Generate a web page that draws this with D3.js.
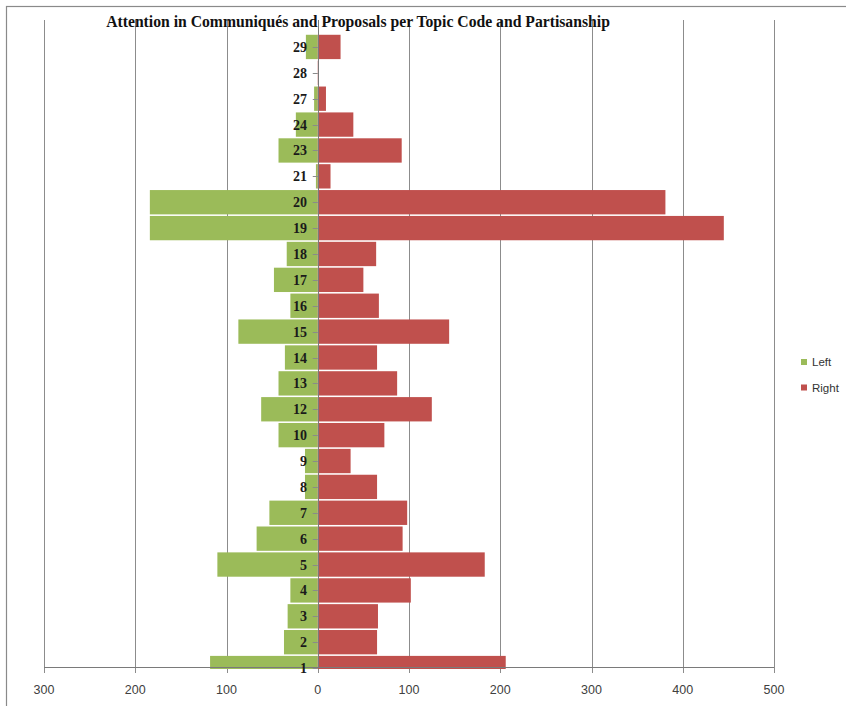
<!DOCTYPE html>
<html><head><meta charset="utf-8">
<script src="https://cdn.jsdelivr.net/npm/d3@7"></script>
<style>html,body{margin:0;padding:0;background:#fff;}svg{display:block;}</style>
</head><body>
<svg id="chart" width="846" height="706"></svg>
<script>
const title = "Attention in Communiqués and Proposals per Topic Code and Partisanship";
const categories = ["1","2","3","4","5","6","7","8","9","10","12","13","14","15","16","17","18","19","20","21","23","24","27","28","29"];
const leftValues  = [118,37,33,30,110,67,53,14,14,43,62,43,36,87,30,48,34,184,184,2,43,24,4,0,13];
const rightValues = [206,65,66,102,183,93,98,65,36,73,125,87,65,144,67,50,64,445,381,14,92,39,9,1,25];
const xTicks = [-300,-200,-100,0,100,200,300,400,500];
const seriesNames = ["Left","Right"];
const colors = ["#9BBB59","#C0504D"];

const svg = d3.select("#chart");
// outer frame
svg.append("rect").attr("x",6.5).attr("y",6.5).attr("width",900).attr("height",900)
  .attr("fill","none").attr("stroke","#8a8a8a").attr("stroke-width",1.2);

const x = d3.scaleLinear().domain([-300,500]).range([44,774]);
const y = d3.scaleBand().domain(categories.slice().reverse()).range([34,681]).paddingInner(0.06).paddingOuter(0.03);
const plotTop = 20, plotBottom = 667;

// gridlines (with ticks below axis)
svg.append("g").selectAll("line").data(xTicks).join("line")
  .attr("x1",d=>Math.round(x(d))+0.5).attr("x2",d=>Math.round(x(d))+0.5)
  .attr("y1",plotTop).attr("y2",plotBottom+6)
  .attr("stroke","#8c8c8c").attr("stroke-width",1);

// bars
svg.append("clipPath").attr("id","clip").append("rect")
  .attr("x",0).attr("y",0).attr("width",846).attr("height",669);
const bars = svg.append("g").attr("clip-path","url(#clip)");
bars.selectAll("rect.left").data(categories).join("rect").attr("class","left")
  .attr("x",(d,i)=>x(-leftValues[i])).attr("width",(d,i)=>x(0)-x(-leftValues[i]))
  .attr("y",d=>y(d)).attr("height",y.bandwidth()).attr("fill",colors[0]);
bars.selectAll("rect.right").data(categories).join("rect").attr("class","right")
  .attr("x",x(0)).attr("width",(d,i)=>x(rightValues[i])-x(0))
  .attr("y",d=>y(d)).attr("height",y.bandwidth()).attr("fill",colors[1]);

// axes lines
svg.append("line").attr("x1",x(-300)).attr("x2",x(500)).attr("y1",plotBottom+0.5).attr("y2",plotBottom+0.5)
  .attr("stroke","#7a7a7a");
svg.append("line").attr("x1",Math.round(x(0))+0.5).attr("x2",Math.round(x(0))+0.5).attr("y1",plotTop).attr("y2",plotBottom)
  .attr("stroke","#7a7a7a");

// x tick labels
svg.append("g").selectAll("text").data(xTicks).join("text")
  .attr("x",d=>x(d)).attr("y",694).attr("text-anchor","middle")
  .attr("font-family","'Liberation Sans', Arial, sans-serif").attr("font-size",12.5).attr("fill","#404040")
  .text(d=>Math.abs(d));

// category ticks & labels
const cy = d => y(d)+y.bandwidth()/2;
svg.append("g").selectAll("line").data(categories).join("line")
  .attr("x1",x(0)-5).attr("x2",x(0)).attr("y1",d=>Math.round(cy(d))+0.5).attr("y2",d=>Math.round(cy(d))+0.5)
  .attr("stroke","#8a8a8a");
svg.append("g").selectAll("text").data(categories).join("text")
  .attr("x",307).attr("y",d=>cy(d)+5).attr("text-anchor","end")
  .attr("font-family","'Liberation Serif','Times New Roman',serif").attr("font-weight","bold")
  .attr("font-size",14).attr("fill","#1a1a1a").text(d=>d);

// title
svg.append("text").attr("x",358).attr("y",27).attr("text-anchor","middle")
  .attr("font-family","'Liberation Serif','Times New Roman',serif").attr("font-weight","bold")
  .attr("font-size",15.7).attr("fill","#111").text(title);

// legend
const lg = svg.append("g").selectAll("g").data(seriesNames).join("g")
  .attr("transform",(d,i)=>`translate(801,${359+i*25.5})`);
lg.append("rect").attr("width",6).attr("height",6).attr("fill",(d,i)=>colors[i]);
lg.append("text").attr("x",11).attr("y",7).attr("font-family","'Liberation Sans', Arial, sans-serif")
  .attr("font-size",11.5).attr("fill","#333").text(d=>d);
</script>
</body></html>
